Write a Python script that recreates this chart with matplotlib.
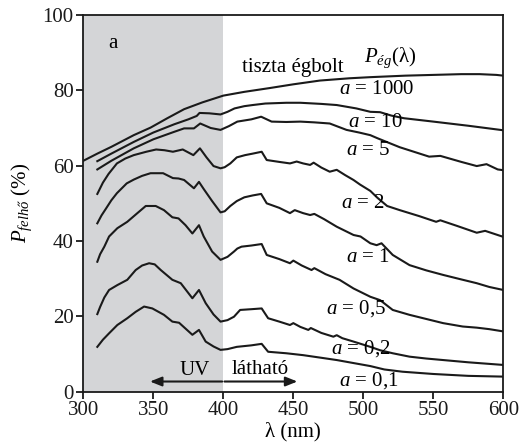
import matplotlib
matplotlib.use("Agg")
import matplotlib.pyplot as plt

plt.rcParams['font.family'] = ['Liberation Serif', 'DejaVu Serif']
plt.rcParams['mathtext.fontset'] = 'custom'
plt.rcParams['mathtext.rm'] = 'Liberation Serif'
plt.rcParams['mathtext.it'] = 'Liberation Serif:italic'
plt.rcParams['mathtext.bf'] = 'Liberation Serif:bold'

# ---- data (wavelength in nm, P in %) ----
wl_1000 = [300, 310, 320, 336, 348, 360, 372, 385, 400, 415, 433, 450, 469, 490, 505, 530, 550, 570, 583, 595, 600]
p_1000 = [61.3, 63.2, 65.0, 68.1, 70.1, 72.6, 75.0, 76.8, 78.6, 79.6, 80.6, 81.6, 82.6, 83.2, 83.5, 83.9, 84.1, 84.3, 84.3, 84.1, 83.9]

wl_10 = [310, 320, 336, 350, 365, 375, 381, 383, 390, 398, 403, 408, 415, 421, 430, 445, 455, 470, 481, 495, 505, 512, 520, 529, 550, 575, 600]
p_10 = [61.2, 63.2, 66.3, 68.8, 71.0, 72.3, 73.2, 74.0, 73.9, 73.6, 74.3, 75.2, 75.8, 76.1, 76.5, 76.7, 76.7, 76.4, 76.1, 75.2, 74.3, 74.2, 73.3, 72.6, 71.7, 70.6, 69.4]

wl_5 = [310, 320, 336, 350, 365, 372, 379, 383.5, 391, 398, 404, 410, 420, 427, 434.5, 445, 455, 465, 476, 488, 497, 505, 510, 526, 547, 555, 570, 581, 588, 596, 600]
p_5 = [59.0, 61.3, 64.6, 67.0, 69.0, 69.9, 69.9, 71.2, 70.0, 69.5, 70.5, 71.7, 72.3, 73.0, 71.7, 71.6, 71.7, 71.5, 71.2, 69.5, 68.8, 68.1, 67.3, 64.9, 62.4, 62.6, 61.0, 59.9, 60.4, 59.0, 58.8]

wl_2 = [310, 314, 318, 324, 330, 336, 345, 352, 358, 364, 371, 378.6, 383.3, 388, 393, 398, 401, 405, 409.6, 415.5, 421, 427.4, 431, 440, 447.6, 452.4, 457, 462, 464.5, 470, 476, 481, 487, 493, 497.6, 505, 510, 517, 526, 540, 552, 555, 567, 581, 587, 600]
p_2 = [52.5, 55.5, 57.8, 60.6, 61.9, 62.8, 63.7, 64.3, 64.1, 63.7, 64.3, 62.8, 64.6, 62.2, 59.9, 59.3, 59.6, 60.6, 62.2, 62.8, 63.2, 63.7, 61.5, 61.0, 60.6, 61.1, 60.6, 60.2, 60.8, 59.5, 58.4, 58.9, 57.5, 56.2, 55.0, 53.3, 51.5, 49.3, 48.2, 46.6, 45.1, 45.5, 44.0, 42.2, 42.7, 41.1]

wl_1 = [310, 313, 316, 320, 324, 331, 336, 342, 348, 357, 364, 368, 372, 379, 382.6, 386, 392, 398, 401, 405, 409.6, 415, 421, 427, 431, 440, 447.6, 451, 457, 462, 465, 472, 481, 493, 498, 505, 509.5, 513, 521, 533, 545, 557, 570, 581, 590, 600]
p_1 = [44.7, 46.8, 48.5, 50.8, 52.7, 55.3, 56.3, 57.3, 58.0, 58.0, 56.7, 56.6, 56.2, 54.0, 55.7, 53.8, 50.6, 47.6, 47.9, 49.3, 50.6, 51.6, 52.1, 52.5, 50.0, 48.8, 47.4, 48.2, 47.4, 46.9, 47.2, 45.8, 43.8, 41.6, 41.2, 39.4, 38.9, 39.4, 36.3, 33.6, 32.2, 31.0, 29.8, 28.8, 27.8, 27.0]

wl_05 = [310, 312, 315, 318.4, 324.3, 331.4, 338.6, 344.6, 351.7, 357.6, 363.6, 368, 373, 377.9, 382.6, 386, 392, 398, 403, 407.6, 410, 413, 420, 427.4, 431, 440, 447.6, 450, 456, 463, 465, 473, 483, 493, 505, 512, 521, 533, 545, 557, 571, 581, 590, 600]
p_05 = [34.5, 36.5, 38.5, 41.2, 43.4, 45.1, 47.4, 49.3, 49.3, 48.2, 46.3, 46.0, 44.2, 42.0, 44.2, 41.2, 37.2, 35.0, 35.8, 37.2, 38.0, 38.5, 38.8, 39.2, 36.3, 35.2, 34.1, 34.8, 33.5, 32.3, 32.8, 31.2, 29.7, 27.4, 25.2, 24.3, 21.7, 20.4, 19.3, 18.2, 17.3, 17.0, 16.6, 16.0]

wl_02 = [310, 312, 315, 318.4, 324.3, 331.4, 337.4, 342, 347, 351, 355.3, 363.6, 369.6, 377.9, 382.6, 387.4, 393, 398, 403, 407.6, 412, 420, 427.4, 432, 440, 447.6, 450, 455, 460.7, 462.5, 470, 478.6, 481, 485, 493, 505, 512, 521, 533, 545, 557, 575, 600]
p_02 = [20.6, 22.5, 25.0, 27.0, 28.3, 29.7, 32.3, 33.5, 34.1, 33.8, 32.3, 29.7, 28.8, 24.8, 27.0, 23.5, 20.5, 18.6, 19.0, 19.9, 21.7, 21.9, 22.1, 19.5, 18.6, 17.7, 18.2, 17.2, 16.4, 16.9, 15.6, 14.6, 15.0, 14.2, 13.3, 11.9, 11.0, 10.2, 9.3, 8.8, 8.4, 7.8, 7.1]

wl_01 = [310, 314, 318.4, 324.3, 331.4, 337.4, 343.4, 349.3, 357.6, 363.6, 368.4, 377.9, 382.6, 387.4, 393, 398, 403, 409.6, 420, 427.4, 432, 445, 457, 470, 481, 493, 505, 515, 528, 550, 575, 600]
p_01 = [11.9, 13.8, 15.5, 17.7, 19.5, 21.2, 22.6, 22.1, 20.4, 18.6, 18.3, 15.1, 16.4, 13.3, 12.0, 11.1, 11.3, 11.9, 12.3, 12.7, 10.6, 10.2, 9.7, 9.0, 8.4, 7.6, 6.8, 5.9, 5.3, 4.7, 4.2, 4.0]

curves = [(wl_1000, p_1000), (wl_10, p_10), (wl_5, p_5), (wl_2, p_2),
          (wl_1, p_1), (wl_05, p_05), (wl_02, p_02), (wl_01, p_01)]
curve_labels = ["1000", "10", "5", "2", "1", "0,5", "0,2", "0,1"]

uv_band = (300, 400)
x_ticks = [300, 350, 400, 450, 500, 550, 600]
y_ticks = [0, 20, 40, 60, 80, 100]

# ---- figure ----
fig = plt.figure(figsize=(5.26, 4.48), dpi=100)
ax = fig.add_axes([0.1584, 0.1257, 0.7985, 0.8408])

ax.axvspan(uv_band[0], uv_band[1], color='#d4d5d7', lw=0, zorder=0)

for wl, p in curves:
    ax.plot(wl, p, color='#1a1a1a', lw=1.5, solid_joinstyle='round', zorder=3)

ax.set_xlim(300, 600)
ax.set_ylim(0, 100)
ax.set_xticks(x_ticks)
ax.set_yticks(y_ticks)
ax.tick_params(direction='out', length=5, width=1.3, labelsize=15, pad=2,
               colors='#1a1a1a', top=False, right=False)
for s in ax.spines.values():
    s.set_linewidth(1.3)
    s.set_color('#1a1a1a')

ax.set_xlabel("λ (nm)", fontsize=15, labelpad=1)
ax.set_ylabel(r"$P_{\mathit{felhő}}$ (%)", fontsize=15, labelpad=6)

# ---- annotations ----
fs = 15
ax.text(317.7, 91.2, "a", fontsize=fs, va='baseline', ha='left')
ax.text(449.4, 85.0, "tiszta égbolt", fontsize=fs, va='baseline', ha='center')
ax.text(500.5, 87.6, r"$P_{\mathit{ég}}$(λ)", fontsize=fs, va='baseline', ha='left')

label_pos = [(509.5, 79.0), (508.3, 70.2), (503.4, 62.8), (499.4, 48.7),
             (503.4, 34.4), (494.7, 20.8), (498.2, 10.2), (504.2, 1.5)]
for (lx, ly), lab in zip(label_pos, curve_labels):
    ax.text(lx, ly, r"$a$ = " + lab, fontsize=fs, va='baseline', ha='center', zorder=4)

ax.text(369, 4.4, "UV", fontsize=fs, va='baseline', ha='left')
ax.text(406, 4.7, "látható", fontsize=fs, va='baseline', ha='left')

arrow_kw = dict(arrowstyle='-|>,head_length=0.7,head_width=0.28', color='#1a1a1a',
                lw=1.5, shrinkA=0, shrinkB=0)
ax.annotate("", xy=(347.6, 2.7), xytext=(399.2, 2.7), arrowprops=arrow_kw)
ax.annotate("", xy=(452.9, 2.7), xytext=(400.8, 2.7), arrowprops=arrow_kw)

fig.savefig("out.png", dpi=100)
